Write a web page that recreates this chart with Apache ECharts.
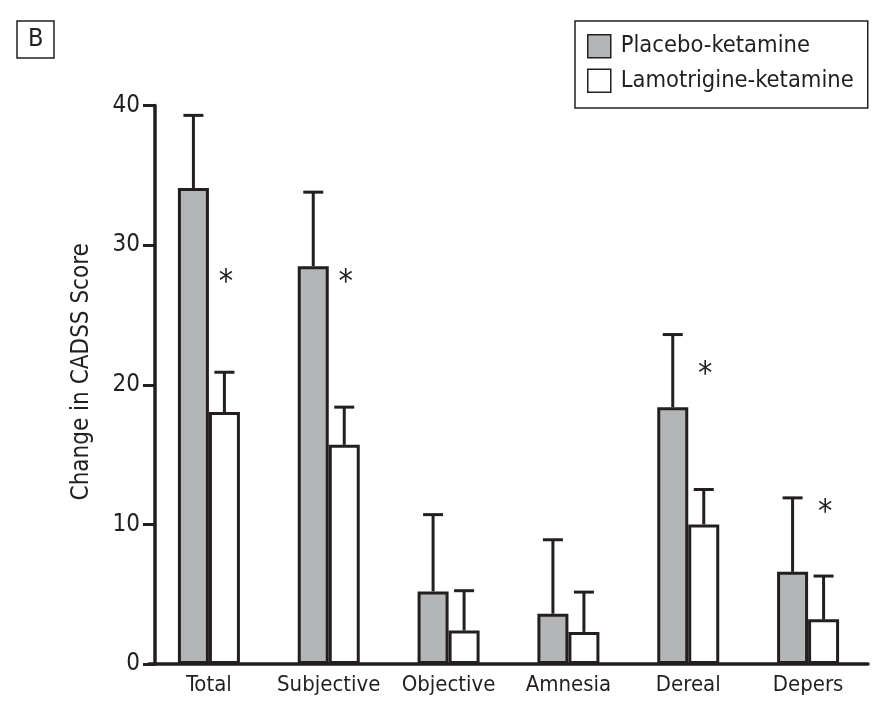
<!DOCTYPE html>
<html>
<head>
<meta charset="utf-8">
<script src="https://cdn.jsdelivr.net/npm/echarts@6/dist/echarts.min.js"></script>
<style>html,body{margin:0;padding:0;background:#fff}#c{width:892px;height:723px}</style>
</head>
<body>
<div id="c"></div>
<script>
const categories = ['Total', 'Subjective', 'Objective', 'Amnesia', 'Dereal', 'Depers'];
const placeboMean = [34.1, 28.5, 5.2, 3.6, 18.4, 6.6];
const placeboErr = [5.2, 5.3, 5.5, 5.3, 5.2, 5.3];
const lamoMean = [18.05, 15.7, 2.4, 2.3, 10.0, 3.2];
const lamoErr = [2.85, 2.7, 2.85, 2.85, 2.5, 3.1];
const starY = [27.7, 27.7, null, null, 21.1, 11.2];
const yTicks = [0, 10, 20, 30, 40];

const FONT = "'Liberation Sans Narrow', 'DejaVu Sans Condensed', 'Roboto', sans-serif";
const INK = '#231f20';
const GRAY = '#b4b5b7';
const BAR_W = 31;

const chart = echarts.init(document.getElementById('c'), null, {renderer: 'canvas'});

function errorSeries(name, means, errs, dir) {
  return {
    type: 'custom',
    name: name + ' err',
    z: 5,
    silent: true,
    data: categories.map((c, i) => [i, means[i], errs[i]]),
    renderItem: function (params, api) {
      const i = api.value(0), m = api.value(1), e = api.value(2);
      const p0 = api.coord([i, m]);
      const p1 = api.coord([i, m + e]);
      const cx = p0[0] + dir * BAR_W / 2;
      const st = {stroke: INK, lineWidth: 3};
      return {
        type: 'group',
        children: [
          {type: 'line', shape: {x1: cx, y1: p0[1], x2: cx, y2: p1[1]}, style: st},
          {type: 'line', shape: {x1: cx - 10, y1: p1[1], x2: cx + 10, y2: p1[1]}, style: st}
        ]
      };
    }
  };
}

const option = {
  animation: false,
  backgroundColor: '#fff',
  title: {
    text: 'B',
    left: 17, top: 21,
    padding: [5, 11, 5, 11],
    borderColor: INK, borderWidth: 1.5,
    textStyle: {fontFamily: FONT, fontSize: 25, fontWeight: 'normal', color: INK, lineHeight: 27}
  },
  legend: {
    orient: 'vertical',
    left: 575, top: 21,
    padding: [13, 14, 15, 12],
    itemGap: 10,
    itemWidth: 23, itemHeight: 23,
    borderColor: INK, borderWidth: 1.5,
    icon: 'rect',
    itemStyle: {borderWidth: 1.5, borderColor: INK},
    textStyle: {fontFamily: FONT, fontSize: 23.5, color: INK, padding: [0, 0, 0, 5]},
    data: ['Placebo-ketamine', 'Lamotrigine-ketamine']
  },
  grid: {left: 149, right: 24, top: 105.6, bottom: 59, containLabel: false},
  xAxis: {
    type: 'category',
    data: categories,
    axisLine: {show: true, lineStyle: {color: INK, width: 3.5}},
    axisTick: {show: false},
    axisLabel: {fontFamily: FONT, fontSize: 22, color: INK, margin: 10, interval: 0}
  },
  yAxis: {
    type: 'value',
    min: 0, max: 40, interval: 10,
    offset: -6,
    name: 'Change in CADSS Score',
    nameLocation: 'middle',
    nameGap: 61,
    nameTextStyle: {fontFamily: FONT, fontSize: 24, color: INK, padding: [0, 0, 0, 26]},
    axisLine: {show: true, lineStyle: {color: INK, width: 3.5}},
    axisTick: {show: true, inside: false, length: 12, lineStyle: {color: INK, width: 3}},
    axisLabel: {fontFamily: FONT, fontSize: 24, color: INK, margin: 15,
      formatter: v => yTicks.includes(v) ? String(v) : ''},
    splitLine: {show: false}
  },
  series: [
    {
      name: 'Placebo-ketamine', type: 'bar', data: placeboMean,
      barWidth: BAR_W, barGap: '0%',
      itemStyle: {color: GRAY, borderColor: INK, borderWidth: 3}
    },
    {
      name: 'Lamotrigine-ketamine', type: 'bar', data: lamoMean,
      barWidth: BAR_W, barGap: '0%',
      itemStyle: {color: '#ffffff', borderColor: INK, borderWidth: 3}
    },
    errorSeries('Placebo-ketamine', placeboMean, placeboErr, -1),
    errorSeries('Lamotrigine-ketamine', lamoMean, lamoErr, 1),
    {
      type: 'custom', name: 'stars', z: 6, silent: true,
      data: categories.map((c, i) => [i, starY[i]]).filter(d => d[1] != null),
      renderItem: function (params, api) {
        const p = api.coord([api.value(0), api.value(1)]);
        return {
          type: 'text',
          style: {x: p[0] + 17, y: p[1] + 5, text: '*', fontFamily: FONT, fontSize: 32,
            fill: INK, align: 'center', verticalAlign: 'middle'}
        };
      }
    }
  ]
};
chart.setOption(option);
</script>
</body>
</html>
